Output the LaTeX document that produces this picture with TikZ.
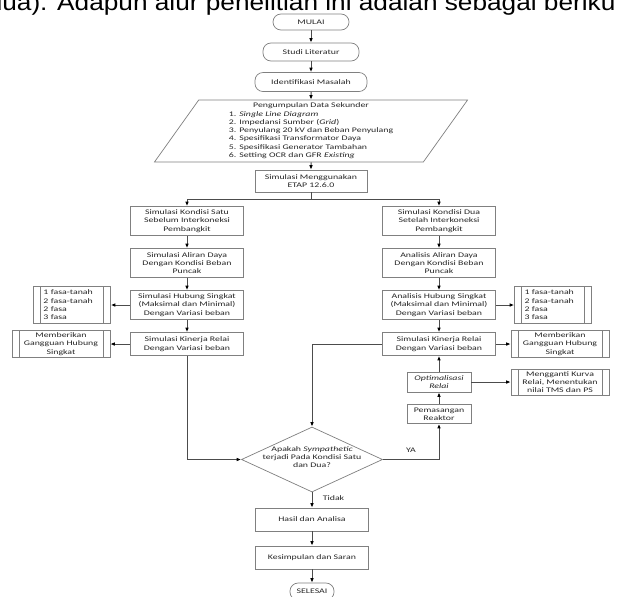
\documentclass[tikz,border=0pt]{standalone}
\usepackage{fontspec}
\setmainfont{Carlito}
\newfontfamily\flowfont[FakeStretch=1.4]{Carlito}
\newfontfamily\headfont[FakeStretch=1.13]{Liberation Sans}
\usetikzlibrary{%
   arrows.meta,%
   positioning,%
   shapes.geometric}

\begin{document}
\begin{tikzpicture}[x=0.025cm,y=-0.025cm,node distance=1cm,on grid,
    >={Latex[length=3.2pt,width=2.6pt,color=black]},
    every node/.style={font=\flowfont\fontsize{5}{5.9}\selectfont,text=black!85},
    line/.style={draw=black!70,line width=0.7pt},
    box/.style={draw=black!50,line width=0.5pt,align=center,inner sep=1pt,
      minimum width=2.825cm,minimum height=0.725cm},
    terminal/.style={box,rounded corners=0.2cm,minimum height=0.4cm},
    sub/.style={box,path picture={
      \draw[black!50,line width=0.5pt]
        ([xshift=0.175cm]path picture bounding box.north west) -- ([xshift=0.175cm]path picture bounding box.south west)
        ([xshift=-0.175cm]path picture bounding box.north east) -- ([xshift=-0.175cm]path picture bounding box.south east);}},
    data/.style={trapezium,trapezium stretches body,trapezium left angle=54,trapezium right angle=126,
      draw=black!50,line width=0.5pt,inner sep=1pt,minimum width=7.825cm,minimum height=1.55cm},
    tanya/.style={diamond,draw=black!50,line width=0.5pt,inner sep=0pt,
      minimum width=3.525cm,minimum height=1.625cm}]
  \useasboundingbox (0,0) rectangle (617,597);
  \clip (0,0) rectangle (617,597);
  \fill[white] (0,0) rectangle (617,597);

  \node[font=\headfont\fontsize{16.5}{18}\selectfont,text=black,anchor=base west,inner sep=0pt] (judul) at (-12.5,11)
    {dua). Adapun alur penelitian ini adalah sebagai berikut};

  % jalur utama
  \node[terminal,minimum width=1.9cm] (mulai) at (311,22) {MULAI};
  \node[terminal,minimum width=2.4cm,minimum height=0.45cm] (studi) [below=0.75cm of mulai] {Studi Literatur};
  \node[terminal,minimum width=2.8cm,minimum height=0.475cm] (identifikasi) [below=0.75cm of studi] {Identifikasi Masalah};
  \node[data] (data) [below=1.225cm of identifikasi] {%
    \begin{tabular}{@{}l@{}}
      \multicolumn{1}{c}{Pengumpulan Data Sekunder}\\
      1. \textit{Single Line Diagram}\\
      2. Impedansi Sumber (\textit{Grid})\\
      3. Penyulang 20 kV dan Beban Penyulang\\
      4. Spesifikasi Transformator Daya\\
      5. Spesifikasi Generator Tambahan\\
      6. Setting OCR dan GFR \textit{Existing}
    \end{tabular}};
  \node[box,minimum width=2.8cm,minimum height=0.55cm] (etap) [below=1.25cm of data] {Simulasi Menggunakan\\ETAP 12.6.0};

  % kondisi satu
  \node[box] (kondisi1) at (187,221) {Simulasi Kondisi Satu\\Sebelum Interkoneksi\\Pembangkit};
  \node[box] (aliran1) [below=1.05cm of kondisi1] {Simulasi Aliran Daya\\Dengan Kondisi Beban\\Puncak};
  \node[box] (hubung1) [below=1.05cm of aliran1] {Simulasi Hubung Singkat\\(Maksimal dan Minimal)\\Dengan Variasi beban};
  \node[box,minimum height=0.575cm] (kinerja1) [below=0.975cm of hubung1] {Simulasi Kinerja Relai\\Dengan Variasi beban};
  \node[sub,align=left,minimum width=0pt,text width=1.425cm,inner xsep=0.25cm,minimum height=0.925cm] (fasa1) [left=2.875cm of hubung1] {1 fasa-tanah\\2 fasa-tanah\\2 fasa\\3 fasa};
  \node[sub,minimum width=2.45cm,minimum height=0.675cm] (beri1) [left=3.15cm of kinerja1] {Memberikan\\Gangguan Hubung\\Singkat};

  % kondisi dua
  \node[box] (kondisi2) at (439,221) {Simulasi Kondisi Dua\\Setelah Interkoneksi\\Pembangkit};
  \node[box] (aliran2) [below=1.05cm of kondisi2] {Analisis Aliran Daya\\Dengan Kondisi Beban\\Puncak};
  \node[box] (hubung2) [below=1.05cm of aliran2] {Analisis Hubung Singkat\\(Maksimal dan Minimal)\\Dengan Variasi beban};
  \node[box,minimum height=0.575cm] (kinerja2) [below=0.975cm of hubung2] {Simulasi Kinerja Relai\\Dengan Variasi beban};
  \node[sub,align=left,minimum width=0pt,text width=1.425cm,inner xsep=0.25cm,minimum height=0.925cm] (fasa2) [right=2.85cm of hubung2] {1 fasa-tanah\\2 fasa-tanah\\2 fasa\\3 fasa};
  \node[sub,minimum width=2.45cm,minimum height=0.675cm] (beri2) [right=3.025cm of kinerja2] {Memberikan\\Gangguan Hubung\\Singkat};
  \node[box,minimum width=1.6cm,minimum height=0.5cm] (optim) [below=0.95cm of kinerja2] {\textit{Optimalisasi}\\\textit{Relai}};
  \node[sub,minimum width=2.45cm,minimum height=0.65cm] (ganti) [right=3.025cm of optim] {Mengganti Kurva\\Relai, Menentukan\\nilai TMS dan PS};
  \node[box,minimum width=1.6cm,minimum height=0.475cm] (pasang) [below=0.8cm of optim] {Pemasangan\\Reaktor};

  % keputusan dan akhir
  \node[tanya] (tanya) at (312,459.5) {\smash{\makebox[0pt]{\begin{tabular}{@{}c@{}}Apakah \textit{Sympathetic}\\terjadi Pada Kondisi Satu\\dan Dua?\end{tabular}}}};
  \node[box,minimum height=0.575cm] (hasil) [below=1.5cm of tanya] {Hasil dan Analisa};
  \node[box,minimum height=0.575cm] (simpul) [below=0.95cm of hasil] {Kesimpulan dan Saran};
  \node[terminal,minimum width=1.1cm,minimum height=0.425cm] (selesai) [below=0.85cm of simpul] {SELESAI};

  \foreach \a/\b in {mulai/studi,studi/identifikasi,identifikasi/data,data/etap,
      kondisi1/aliran1,aliran1/hubung1,hubung1/kinerja1,hubung1/fasa1,kinerja1/beri1,
      kondisi2/aliran2,aliran2/hubung2,hubung2/kinerja2,hubung2/fasa2,kinerja2/beri2,
      pasang/optim,optim/kinerja2,optim/ganti,hasil/simpul,simpul/selesai}
    \draw[line,->] (\a) -- (\b);
  \draw[line,->] (etap.south) -- ++(0,7) -| (kondisi1.north);
  \draw[line,->] (etap.south) -- ++(0,7) -| (kondisi2.north);
  \draw[line,->] (kinerja1.south) |- (tanya.west);
  \draw[line,->] (kinerja2.west) -| (tanya.north);
  \draw[line,->] (tanya.east) -| node[pos=0.25,above=1pt] {YA} (pasang.south);
  \draw[line,->] (tanya.south) -- node[pos=0.35,right=4pt] {Tidak} (hasil.north);
\end{tikzpicture}
\end{document}
